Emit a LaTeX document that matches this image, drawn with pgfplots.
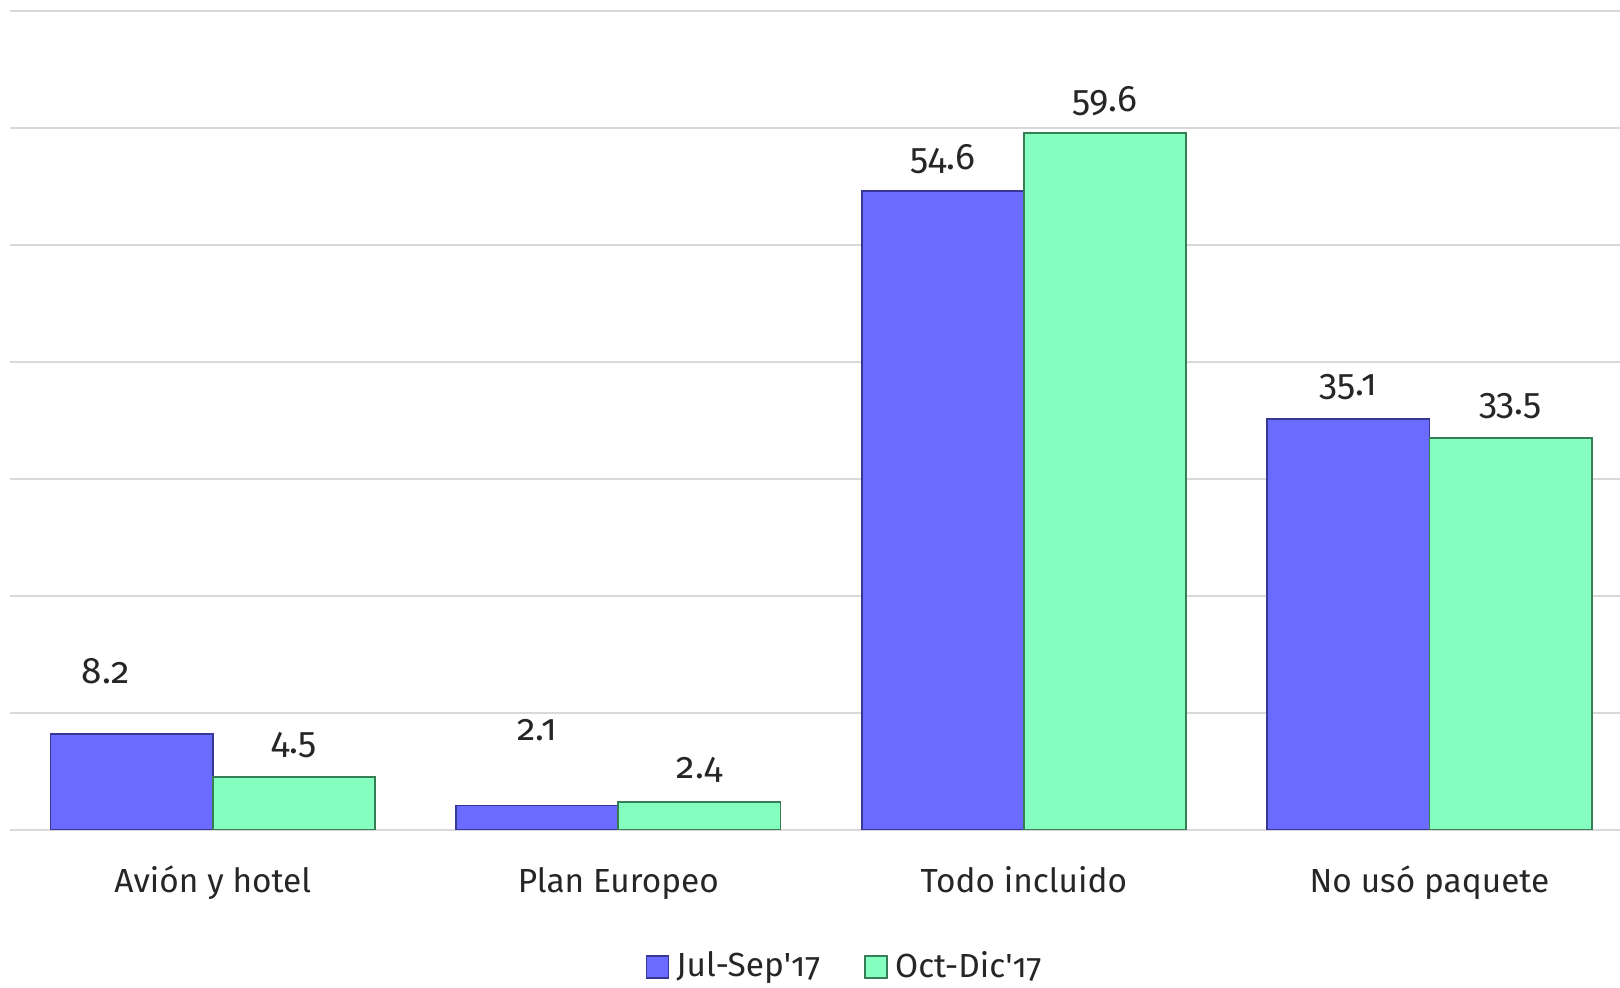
\documentclass[border=0pt]{standalone}
\usepackage{pgfplots}
\pgfplotsset{compat=1.18}
\usepackage{fontspec}
\setmainfont[Numbers=OldStyle]{Fira Sans}
\definecolor{txt}{RGB}{38,38,38}
\definecolor{barblue}{RGB}{107,107,255}
\definecolor{edgeblue}{RGB}{55,55,150}
\definecolor{bargreen}{RGB}{132,255,192}
\definecolor{edgegreen}{RGB}{55,125,85}
\definecolor{gridc}{RGB}{217,217,217}

\begin{document}
\begin{tikzpicture}
  \begin{axis}[
      name=ax, at={(0,0)}, anchor=south west,
      scale only axis, width=16.1cm, height=8.19cm,
      xmin=-0.5, xmax=3.47, ymin=0, ymax=70,
      ytick={0,10,...,70}, yticklabels={},
      ymajorgrids, grid style={gridc, line width=0.6pt},
      axis line style={draw=none}, tick style={draw=none},
      xtick={0,1,2,3},
      xticklabels={Avión y hotel, Plan Europeo, Todo incluido, No usó paquete},
      xticklabel style={anchor=base, yshift=-4.7mm, font=\fontsize{9.5}{11}\selectfont, text=txt},
      ybar, bar width=0.4,
      nodes near coords,
      nodes near coords align=vertical,
      every node near coord/.append style={anchor=center, yshift=3.2mm, font=\fontsize{10.5}{12}\selectfont, text=txt},
      /pgf/number format/.cd, fixed, fixed zerofill, precision=1, assume math mode=true, /pgfplots/.cd,
      legend style={at={(axis description cs:0.52,-0.167)}, anchor=center, draw=none,
        font=\fontsize{9.5}{11}\selectfont, text=txt,
        /tikz/every even column/.append style={column sep=3.7mm}},
      legend columns=2,
      legend image code/.code={\draw[#1] (0cm,-0.11cm) rectangle (0.22cm,0.11cm);},
    ]
    \addplot[fill=barblue, draw=edgeblue, line width=0.5pt, bar shift=-0.2,
      coordinate style/.condition={\coordindex==0}{xshift=-2.6mm, yshift=3.1mm},
      coordinate style/.condition={\coordindex==1}{yshift=4.3mm}]
      coordinates {(0,8.2) (1,2.1) (2,54.6) (3,35.1)};
    \addplot[fill=bargreen, draw=edgegreen, line width=0.5pt, bar shift=0.2]
      coordinates {(0,4.5) (1,2.4) (2,59.6) (3,33.5)};
    \legend{Jul-Sep\textquotesingle17, Oct-Dic\textquotesingle17}
  \end{axis}
  \pgfresetboundingbox
  \path[use as bounding box] (-0.1cm,-1.58cm) rectangle (16.1cm,8.30cm);
\end{tikzpicture}
\end{document}
